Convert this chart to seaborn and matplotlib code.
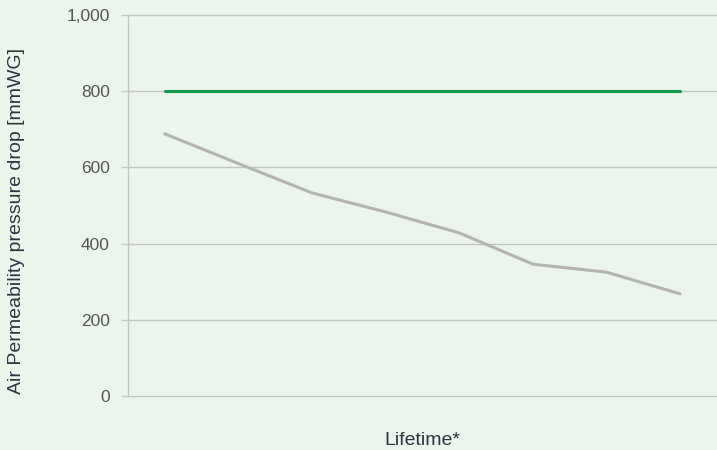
import pandas as pd
import seaborn as sns
import matplotlib.pyplot as plt
from matplotlib.ticker import FuncFormatter

# values
stage = [0, 1, 2, 3, 4, 5, 6, 7]
limit = [800, 800, 800, 800, 800, 800, 800, 800]
pressure = [688, 610, 533, 483, 428, 346, 325, 268]
yticks = [0, 200, 400, 600, 800, 1000]

bg = '#ebf5ec'
grid_col = '#c4c6c4'
text_col = '#2c3540'

sns.set_theme(style='white')
plt.rcParams['font.family'] = ['Liberation Sans', 'DejaVu Sans']

df = pd.DataFrame({'stage': stage, 'limit': limit, 'pressure': pressure})

fig = plt.figure(figsize=(7.17, 4.5), dpi=100, facecolor=bg)
ax = fig.add_axes([0.1785, 0.12, 0.8215, 0.8467])
ax.set_facecolor(bg)

sns.lineplot(x='stage', y='limit', data=df, color='#12994a', linewidth=2.2, ax=ax)
sns.lineplot(x='stage', y='pressure', data=df, color='#b3b3b3', linewidth=2.2, ax=ax)

ax.set_xlim(-0.5, 7.5)
ax.set_ylim(0, 1000)
ax.set_yticks(yticks)
ax.yaxis.set_major_formatter(FuncFormatter(lambda v, p: f'{int(v):,}'))
ax.set_xticks([])
ax.grid(axis='y', color=grid_col, linewidth=1)
for gl in ax.get_ygridlines():
    gl.set_clip_on(False)
ax.set_axisbelow(True)

for s in ['top', 'right', 'bottom']:
    ax.spines[s].set_visible(False)
ax.spines['left'].set_color(grid_col)
ax.spines['left'].set_linewidth(1)
ax.tick_params(axis='y', length=5, width=1, color=grid_col, labelcolor='#555555',
               labelsize=12.5, pad=8, left=True)

ax.set_xlabel('Lifetime*', fontsize=14, color=text_col, labelpad=26)
ax.set_ylabel('Air Permeability pressure drop [mmWG]', fontsize=14, color=text_col)
ax.yaxis.set_label_coords(-0.175, 0.46)

fig.savefig('out.png', dpi=100, facecolor=bg)
